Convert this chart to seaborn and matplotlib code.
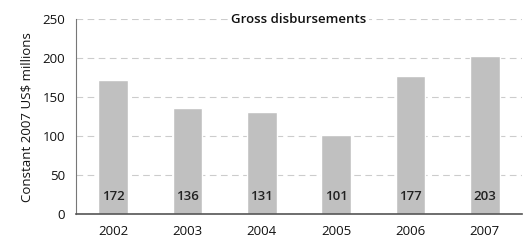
import matplotlib
matplotlib.use("Agg")
import matplotlib.pyplot as plt
import seaborn as sns
import pandas as pd

# Data
years = ["2002", "2003", "2004", "2005", "2006", "2007"]
disbursements = [172, 136, 131, 101, 177, 203]
yticks = [0, 50, 100, 150, 200, 250]

df = pd.DataFrame({"year": years, "value": disbursements})

sns.set_style("white")
plt.rcParams["font.family"] = ["Open Sans", "DejaVu Sans"]

fig = plt.figure(figsize=(5.25, 2.45), dpi=100)
ax = fig.add_axes([0.145, 0.125, 0.849, 0.797])

sns.barplot(data=df, x="year", y="value", color="#c0c0c0", width=0.4,
            saturation=1, ax=ax, zorder=2)

ax.set_ylim(0, 250)
ax.set_yticks(yticks)
ax.yaxis.grid(True, linestyle=(0, (6, 4)), color="#cccccc", linewidth=0.8, zorder=0)
ax.set_axisbelow(True)

for spine in ["top", "right"]:
    ax.spines[spine].set_visible(False)
ax.spines["left"].set_color("#777777")
ax.spines["left"].set_linewidth(0.8)
ax.spines["bottom"].set_color("#555555")
ax.spines["bottom"].set_linewidth(1.2)

ax.tick_params(axis="both", length=0, labelsize=9.5, colors="#111111")
ax.tick_params(axis="x", pad=8)
ax.tick_params(axis="y", pad=8)

ax.set_xlabel("")
ax.set_ylabel("Constant 2007 US$ millions", fontsize=9.5, color="#111111", labelpad=6)

# value labels inside bars
for i, v in enumerate(disbursements):
    ax.text(i, 23, str(v), ha="center", va="center", fontsize=9.5,
            fontweight="semibold", color="#222222", zorder=3)

ax.text(0.5, 250, "Gross disbursements", transform=ax.get_yaxis_transform(),
        ha="center", va="center", fontsize=9.5, fontweight="semibold",
        color="#111111", zorder=3,
        bbox=dict(facecolor="white", edgecolor="none", pad=2))

fig.savefig("out.png", dpi=100)
